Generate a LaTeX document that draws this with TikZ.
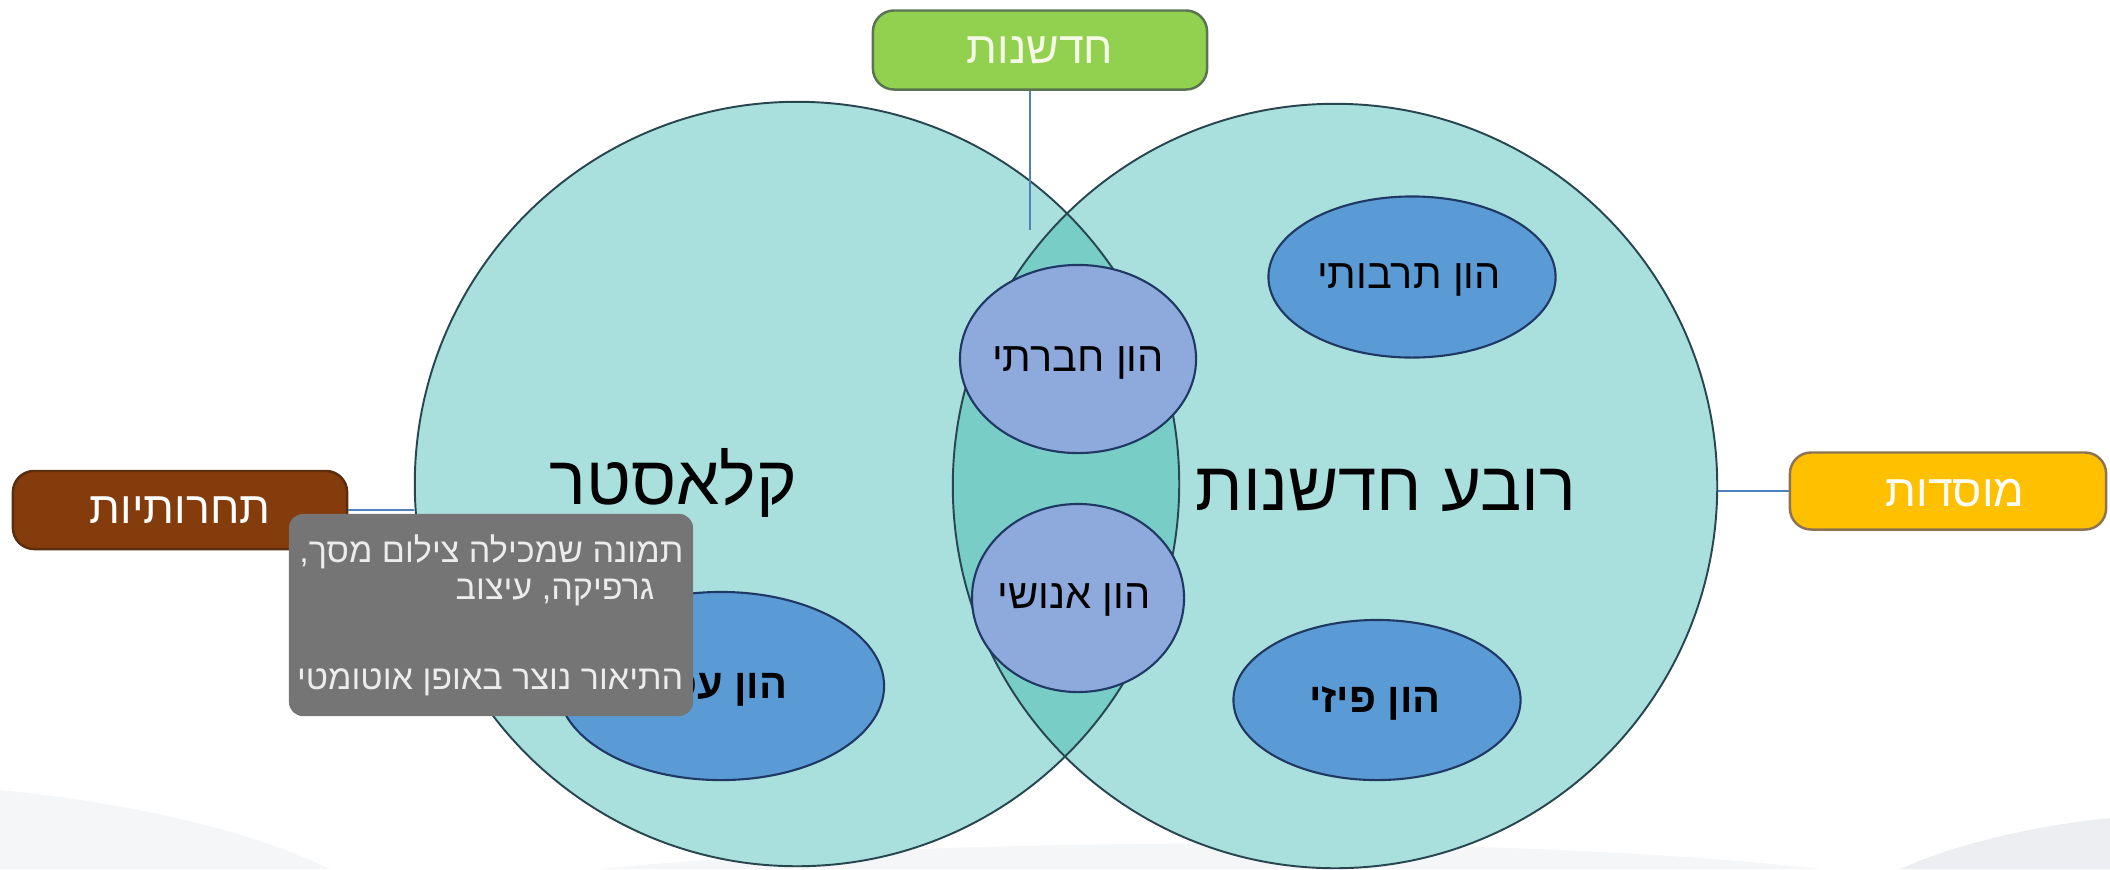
\documentclass[tikz,border=0pt]{standalone}
\usepackage{fontspec}
\setmainfont{Liberation Sans}
\newfontfamily\heb[Script=Hebrew]{Liberation Sans}
\TeXXeTstate=1
\usetikzlibrary{shapes.geometric}
\definecolor{circfill}{RGB}{169,223,221}
\definecolor{lensfill}{RGB}{120,205,199}
\definecolor{circline}{RGB}{40,70,80}
\definecolor{capblue}{RGB}{91,155,213}
\definecolor{capperi}{RGB}{142,169,219}
\definecolor{ellnavy}{RGB}{31,56,100}
\definecolor{boxgreen}{RGB}{146,208,80}
\definecolor{boxgreenline}{RGB}{90,115,80}
\definecolor{boxbrown}{RGB}{132,60,12}
\definecolor{boxbrownline}{RGB}{90,45,15}
\definecolor{boxyellow}{RGB}{255,192,0}
\definecolor{boxyellowline}{RGB}{140,115,85}
\definecolor{connblue}{RGB}{79,129,189}
\definecolor{tipgray}{RGB}{117,117,117}
\definecolor{tiptext}{RGB}{236,236,236}
\definecolor{greentext}{RGB}{245,250,230}
\definecolor{swoosh}{RGB}{244,246,248}
\definecolor{swooshdark}{RGB}{236,238,241}
\newcommand{\hebtxt}[1]{\beginR #1\endR}
\newcommand{\bigheb}{\heb\fontsize{19.6}{22}\selectfont}
\newcommand{\capheb}{\heb\fontsize{11.8}{14}\selectfont}
\newcommand{\boxheb}{\heb\fontsize{12.7}{15}\selectfont}
\newcommand{\tipheb}{\heb\fontsize{9.7}{12}\selectfont}
\tikzset{
  bigcirc/.style={circle, minimum size=7.64cm, inner sep=0pt, fill=circfill},
  circout/.style={draw=circline, line width=0.55pt},
  capell/.style={ellipse, draw=ellnavy, line width=0.6pt, inner sep=0pt},
  capdark/.style={capell, fill=capblue},
  caplight/.style={capell, fill=capperi},
  caplabel/.style={font=\capheb, text=black, inner sep=0pt},
  biglabel/.style={font=\bigheb, text=black, inner sep=0pt},
  topicbox/.style={rounded corners=6pt, line width=0.7pt, inner sep=0pt, minimum height=0.79cm, font=\boxheb},
  conn/.style={draw=connblue, line width=0.6pt},
  tipline/.style={font=\tipheb, text=tiptext, inner sep=0pt, anchor=east}
}
\begin{document}
\begin{tikzpicture}[x=0.01cm,y=-0.01cm]
\useasboundingbox (0,0) rectangle (2110,869);
% faint slide background
\fill[swoosh] (0,790) .. controls (150,805) and (260,835) .. (330,869) -- (0,869) -- cycle;
\fill[swoosh] (600,869) .. controls (900,838) and (1500,832) .. (1820,869) -- cycle;
\fill[swooshdark] (1900,869) .. controls (1960,842) and (2040,825) .. (2110,818) -- (2110,869) -- cycle;
% circles
\node[bigcirc] (L) at (797,484) {};
\node[bigcirc] (R) at (1335,486) {};
\begin{scope}
  \clip (L.center) circle (3.82cm);
  \fill[lensfill] (R.center) circle (3.82cm);
\end{scope}
\draw[circout] (L.center) circle (3.82cm);
\draw[circout] (R.center) circle (3.82cm);
% big labels
\node[biglabel] (lblL) at (673,483) {\hebtxt{קלאסטר}};
\node[biglabel] (lblR) at (1386,490) {\hebtxt{רובע חדשנות}};
% capital ellipses
\node[capdark, minimum width=3.26cm, minimum height=1.88cm] (biz) at (721,686) {};
\node[caplabel, font=\capheb\bfseries] (bizt) at (708,690) {\hebtxt{הון עסקי}};
\node[capdark, minimum width=2.87cm, minimum height=1.60cm] (phys) at (1377,700) {};
\node[caplabel, font=\capheb\bfseries] (physt) at (1375,703) {\hebtxt{הון פיזי}};
\node[capdark, minimum width=2.87cm, minimum height=1.61cm] (cult) at (1412,277) {};
\node[caplabel] (cultt) at (1409,280) {\hebtxt{הון תרבותי}};
\node[caplight, minimum width=2.36cm, minimum height=1.88cm] (soc) at (1078,359) {};
\node[caplabel] (soct) at (1078,363) {\hebtxt{הון חברתי}};
\node[caplight, minimum width=2.12cm, minimum height=1.88cm] (hum) at (1078,598) {};
\node[caplabel] (humt) at (1074,600) {\hebtxt{הון אנושי}};
% topic boxes
\node[topicbox, fill=boxgreen, draw=boxgreenline, text=greentext, minimum width=3.34cm] (G) at (1040,50) {\hebtxt{חדשנות}};
\node[topicbox, fill=boxbrown, draw=boxbrownline, text=white, minimum width=3.34cm, minimum height=0.78cm] (B) at (180,510) {\hebtxt{תחרותיות}};
\node[topicbox, fill=boxyellow, draw=boxyellowline, text=white, minimum width=3.16cm, minimum height=0.77cm] (Y) at (1948,491) {};
\node[font=\boxheb, text=white, inner sep=0pt] (Yt) at (1955,493) {\hebtxt{מוסדות}};
% connectors
\coordinate (gEnd) at (1030,230);
\draw[conn] (G.south -| gEnd) -- (gEnd);
\draw[conn] (B.east) -- (B.east -| L.west);
\draw[conn] (Y.west -| R.east) -- (Y.west);
% tooltip
\node[fill=tipgray, rounded corners=4pt, minimum width=4.04cm, minimum height=2.02cm, inner sep=0pt] (T) at (491,615) {};
\node[tipline] (t1) at (684,552) {\hebtxt{תמונה שמכילה צילום מסך,}};
\node[tipline] (t2) at (655,592) {\hebtxt{גרפיקה, עיצוב}};
\node[tipline] (t3) at (684,682) {\hebtxt{התיאור נוצר באופן אוטומטי}};
\end{tikzpicture}
\end{document}
